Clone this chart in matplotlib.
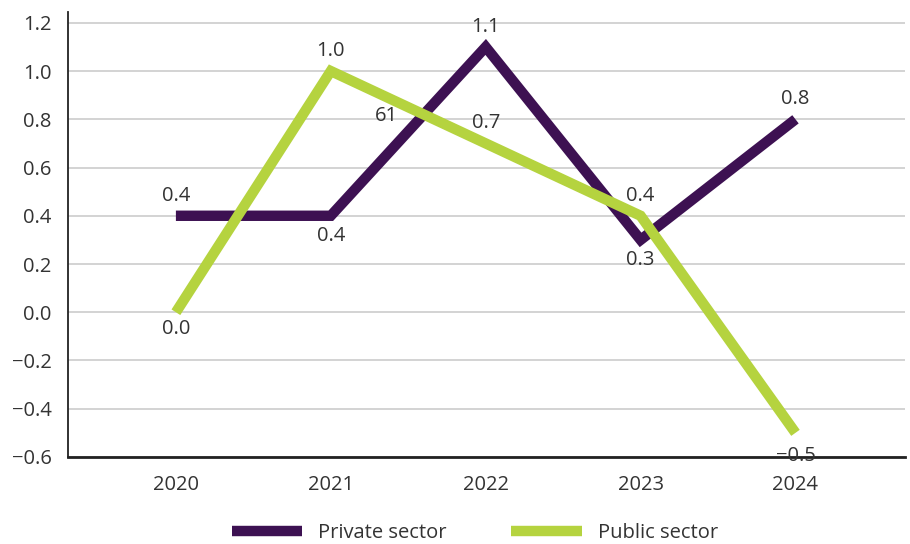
import matplotlib.pyplot as plt

# Annual change by sector
years = ["2020", "2021", "2022", "2023", "2024"]
private_sector = [0.4, 0.4, 1.1, 0.3, 0.8]
public_sector = [0.0, 1.0, 0.7, 0.4, -0.5]

# label offsets in points: positive above the point, negative below
private_off = [14.5, -14.5, 14.5, -14.5, 14.5]
public_off = [-12, 14.5, 14.5, 14.5, -17]

PURPLE = "#3d1152"
GREEN = "#b5d33f"
TEXT = "#333333"
FS = 14.5

plt.rcParams["font.family"] = ["Open Sans", "DejaVu Sans"]


def fmt(v):
    return f"{v:.1f}".replace("-", "\u2212")


fig = plt.figure(figsize=(9.1, 5.44), dpi=100)
ax = fig.add_axes([0.075, 0.16, 0.92, 0.818])

x = list(range(len(years)))
ax.plot(x, private_sector, color=PURPLE, lw=7.5, solid_joinstyle="miter",
        solid_capstyle="butt", label="Private sector", zorder=3)
ax.plot(x, public_sector, color=GREEN, lw=7.5, solid_joinstyle="miter",
        solid_capstyle="butt", label="Public sector", zorder=4)

for vals, offs in ((private_sector, private_off), (public_sector, public_off)):
    for xi, v, dy in zip(x, vals, offs):
        ax.annotate(fmt(v), (xi, v), xytext=(0, dy), textcoords="offset points",
                    ha="center", va="center", fontsize=FS, color=TEXT, zorder=5)

# stray data label left over on the chart
ax.text(1.36, 0.815, "61", ha="center", va="center", fontsize=FS, color=TEXT)

ax.set_xlim(-0.695, 4.71)
ax.set_ylim(-0.6, 1.245)
ax.set_xticks(x)
ax.set_xticklabels(years)
ax.set_yticks([-0.6, -0.4, -0.2, 0.0, 0.2, 0.4, 0.6, 0.8, 1.0, 1.2])
ax.set_yticklabels([fmt(t) for t in ax.get_yticks()])
ax.tick_params(length=0, labelsize=FS, colors=TEXT)
ax.tick_params(axis="x", pad=13)
ax.tick_params(axis="y", pad=12)

ax.grid(axis="y", color="#cccccc", lw=1.2)
ax.set_axisbelow(True)
for s in ("top", "right"):
    ax.spines[s].set_visible(False)
ax.spines["left"].set_color("#222222")
ax.spines["left"].set_linewidth(1.3)
ax.spines["bottom"].set_color("#222222")
ax.spines["bottom"].set_linewidth(2)

leg = fig.legend(loc="center", bbox_to_anchor=(0.522, 0.02), ncol=2, frameon=False,
                 fontsize=FS, handlelength=3.5, handletextpad=0.8, columnspacing=3.2,
                 borderaxespad=0, borderpad=0.2)
for t in leg.get_texts():
    t.set_color(TEXT)

fig.savefig("out.png", dpi=100)
